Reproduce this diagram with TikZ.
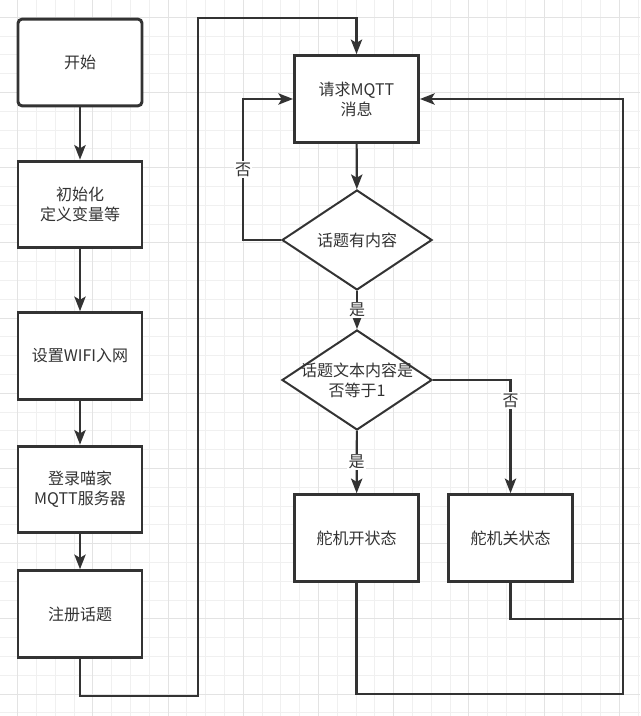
\documentclass[tikz,border=0pt]{standalone}
\usepackage{fontspec}
\usetikzlibrary{arrows.meta,shapes.geometric}
\newfontfamily\cjk{Noto Sans CJK SC}
\definecolor{ink}{HTML}{333333}
\definecolor{gridminor}{HTML}{F0F0F0}
\definecolor{gridmajor}{HTML}{E3E3E3}

\begin{document}
\begin{tikzpicture}[x=0.75pt,y=-0.75pt,>={Stealth[length=11pt,width=8.5pt,inset=2.5pt]},
  base/.style={font=\cjk\fontsize{12}{15}\selectfont,text=ink,align=center},
  procbox/.style={base,rectangle,draw=ink,line width=2.2pt,fill=white,minimum width=93pt,minimum height=65pt},
  startbox/.style={procbox,rounded corners=3pt},
  decision/.style={diamond,draw=ink,line width=1.5pt,fill=white,minimum width=112.5pt,minimum height=75pt,inner sep=0pt},
  flow/.style={->,draw=ink,line width=1.6pt},
  link/.style={draw=ink,line width=1.6pt},
  lbl/.style={base,fill=white,inner sep=1pt}]

  \useasboundingbox (0,0) rectangle (640,716);
  \clip (0,0) rectangle (640,716);
  \fill[white] (0,0) rectangle (640,716);
  % background grid
  \foreach \i in {0,...,38}
    \draw[gridminor,line width=0.75pt] ({-1.1+18.8*\i},0) -- ++(0,716) (0,{-1.5+18.8*\i}) -- ++(640,0);
  \foreach \i in {0,...,9}
    \draw[gridmajor,line width=0.75pt] ({17.7+75.2*\i},0) -- ++(0,716) (0,{17.3+75.2*\i}) -- ++(640,0);

  % left column
  \node[startbox] (start) at (80,62.5) {开始};
  \node[procbox] (init) at (80,204.5) {初始化\\定义变量等};
  \node[procbox] (wifi) at (80,356) {设置WIFI入网};
  \node[procbox] (login) at (80,489.5) {登录喵家\\MQTT服务器};
  \node[procbox] (subscribe) at (80,614) {注册话题};

  % right part
  \node[procbox] (request) at (356.5,99) {请求MQTT\\消息};
  \node[decision] (hasmsg) at (357,240) {};
  \node[base] (hasmsgtext) at (hasmsg) {话题有内容};
  \node[decision] (isone) at (357,380) {};
  \node[base] (isonetext) at (isone) {话题文本内容是\\否等于1};
  \node[procbox] (servoon) at (356.5,538) {舵机开状态};
  \node[procbox] (servooff) at (510.5,538) {舵机关状态};

  \draw[flow] (start) -- (init);
  \draw[flow] (init) -- (wifi);
  \draw[flow] (wifi) -- (login);
  \draw[flow] (login) -- (subscribe);
  \draw[flow] (subscribe.south) -- ++(0,37) -| (198,18) -| (request.north);
  \draw[flow] (request) -- (hasmsg);
  \draw[flow] (hasmsg.west) -- ++(-38,0) |- node[lbl,pos=0.25] {否} (request.west);
  \draw[flow] (hasmsg) -- node[lbl] {是} (isone);
  \draw[flow] (isone.east) -| node[lbl,pos=0.59] {否} (servooff.north);
  \draw[flow] (isone) -- node[lbl] {是} (servoon);
  \draw[link] (servooff.south) |- (623,619);
  \draw[flow] (servoon.south) |- (623,694) |- (request.east);
\end{tikzpicture}
\end{document}
